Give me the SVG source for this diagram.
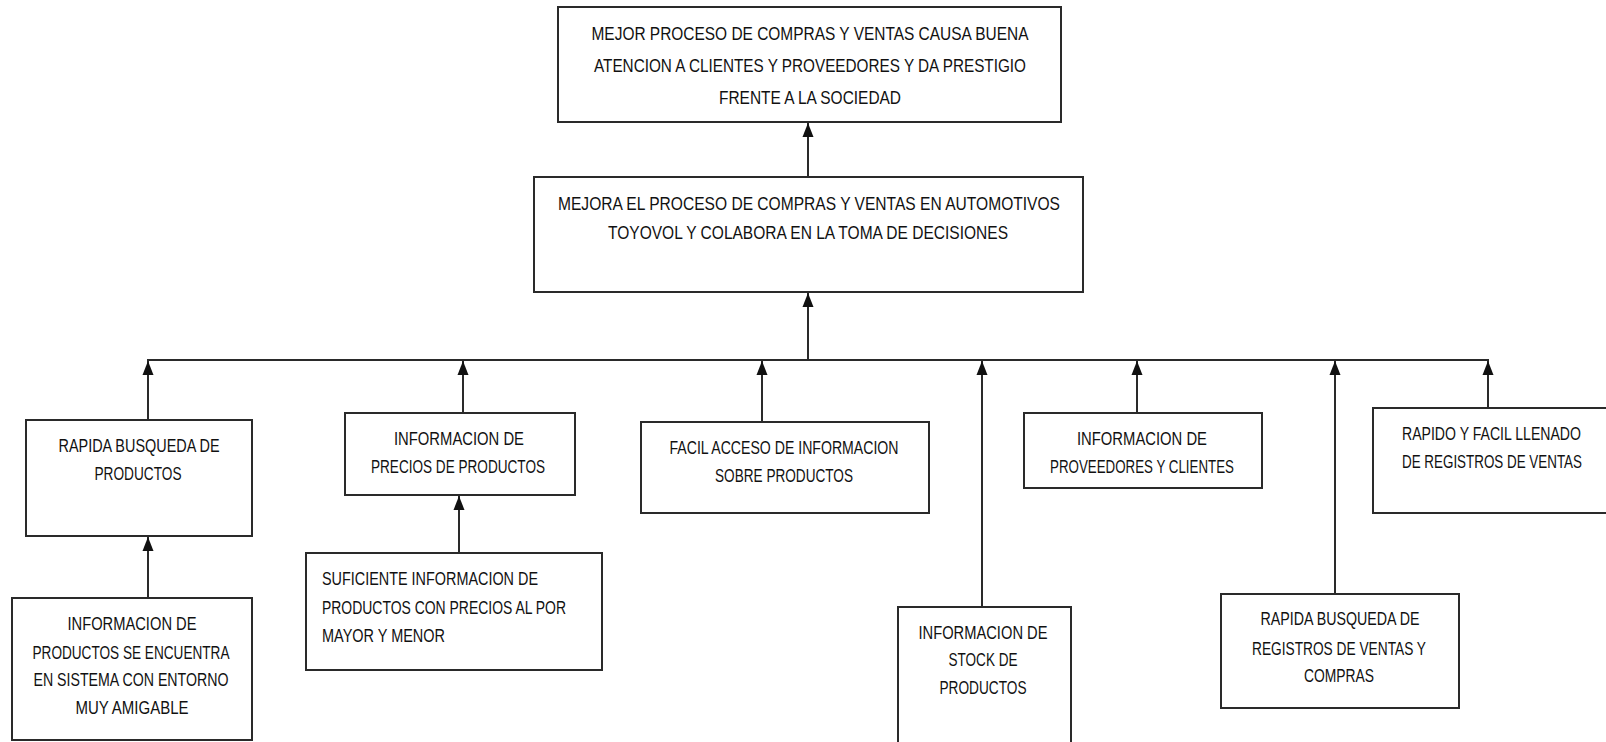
<svg xmlns="http://www.w3.org/2000/svg" width="1606" height="742" viewBox="0 0 1606 742">
<style>
.box{fill:#fff;stroke:#2a2a2a;stroke-width:2}
.t{font-family:"Liberation Sans",Arial,sans-serif;font-size:18px;fill:#111;text-anchor:middle}
.tl{font-family:"Liberation Sans",Arial,sans-serif;font-size:18px;fill:#111;text-anchor:start}
.c{stroke:#2a2a2a;stroke-width:2;fill:none}
.ca{stroke:#2a2a2a;stroke-width:2;fill:none;marker-end:url(#ah)}
</style>
<defs>
<marker id="ah" viewBox="-15 -6 16 12" refX="0" refY="0" markerUnits="userSpaceOnUse" markerWidth="16" markerHeight="12" orient="auto">
<path d="M0,0 L-14,-5.5 L-14,5.5 Z" fill="#111"/>
</marker>
</defs>
<rect width="1606" height="742" fill="#fff"/>
<g id="connectors">
<line class="ca" x1="808" y1="177" x2="808" y2="123"/>
<line class="ca" x1="808" y1="360" x2="808" y2="293"/>
<line class="c" x1="147" y1="360" x2="1489" y2="360"/>
<line class="ca" x1="148" y1="420" x2="148" y2="361"/>
<line class="ca" x1="463" y1="413" x2="463" y2="361"/>
<line class="ca" x1="762" y1="422" x2="762" y2="361"/>
<line class="ca" x1="982" y1="607" x2="982" y2="361"/>
<line class="ca" x1="1137" y1="413" x2="1137" y2="361"/>
<line class="ca" x1="1335" y1="594" x2="1335" y2="361"/>
<line class="ca" x1="1488" y1="408" x2="1488" y2="361"/>
<line class="ca" x1="148" y1="598" x2="148" y2="537"/>
<line class="ca" x1="459" y1="553" x2="459" y2="496"/>
</g>
<g id="top">
<rect class="box" x="558" y="7" width="503" height="115"/>
<text class="t" x="810" y="39.5" textLength="437" lengthAdjust="spacingAndGlyphs">MEJOR PROCESO DE COMPRAS Y VENTAS CAUSA BUENA</text>
<text class="t" x="810" y="71.5" textLength="432" lengthAdjust="spacingAndGlyphs">ATENCION A CLIENTES Y PROVEEDORES Y DA PRESTIGIO</text>
<text class="t" x="810" y="103.5" textLength="182" lengthAdjust="spacingAndGlyphs">FRENTE A LA SOCIEDAD</text>
</g>
<g id="mid">
<rect class="box" x="534" y="177" width="549" height="115"/>
<text class="t" x="809" y="209.5" textLength="502" lengthAdjust="spacingAndGlyphs">MEJORA EL PROCESO DE COMPRAS Y VENTAS EN AUTOMOTIVOS</text>
<text class="t" x="808" y="238.5" textLength="400" lengthAdjust="spacingAndGlyphs">TOYOVOL Y COLABORA EN LA TOMA DE DECISIONES</text>
</g>
<g id="n1">
<rect class="box" x="26" y="420" width="226" height="116"/>
<text class="t" x="139" y="451.5" textLength="161" lengthAdjust="spacingAndGlyphs">RAPIDA BUSQUEDA DE</text>
<text class="t" x="138" y="479.5" textLength="87" lengthAdjust="spacingAndGlyphs">PRODUCTOS</text>
</g>
<g id="n2">
<rect class="box" x="345" y="413" width="230" height="82"/>
<text class="t" x="459" y="444.5" textLength="130" lengthAdjust="spacingAndGlyphs">INFORMACION  DE</text>
<text class="t" x="458" y="472.5" textLength="174" lengthAdjust="spacingAndGlyphs">PRECIOS DE PRODUCTOS</text>
</g>
<g id="n3">
<rect class="box" x="641" y="422" width="288" height="91"/>
<text class="t" x="784" y="453.5" textLength="229" lengthAdjust="spacingAndGlyphs">FACIL ACCESO  DE INFORMACION</text>
<text class="t" x="784" y="481.5" textLength="138" lengthAdjust="spacingAndGlyphs">SOBRE  PRODUCTOS</text>
</g>
<g id="n4">
<rect class="box" x="898" y="607" width="173" height="160"/>
<text class="t" x="983" y="638.5" textLength="129" lengthAdjust="spacingAndGlyphs">INFORMACION  DE</text>
<text class="t" x="983" y="665.5" textLength="69" lengthAdjust="spacingAndGlyphs">STOCK DE</text>
<text class="t" x="983" y="693.5" textLength="87" lengthAdjust="spacingAndGlyphs">PRODUCTOS</text>
</g>
<g id="n5">
<rect class="box" x="1024" y="413" width="238" height="75"/>
<text class="t" x="1142" y="444.5" textLength="130" lengthAdjust="spacingAndGlyphs">INFORMACION  DE</text>
<text class="t" x="1142" y="472.5" textLength="184" lengthAdjust="spacingAndGlyphs">PROVEEDORES  Y CLIENTES</text>
</g>
<g id="n6">
<rect class="box" x="1221" y="594" width="238" height="114"/>
<text class="t" x="1340" y="624.5" textLength="159" lengthAdjust="spacingAndGlyphs">RAPIDA BUSQUEDA  DE</text>
<text class="t" x="1339" y="654.5" textLength="174" lengthAdjust="spacingAndGlyphs">REGISTROS  DE VENTAS  Y</text>
<text class="t" x="1339" y="681.5" textLength="70" lengthAdjust="spacingAndGlyphs">COMPRAS</text>
</g>
<g id="n7">
<rect class="box" x="1373" y="408" width="250" height="105"/>
<text class="tl" x="1402" y="439.5" textLength="179" lengthAdjust="spacingAndGlyphs">RAPIDO Y FACIL LLENADO</text>
<text class="tl" x="1402" y="467.5" textLength="180" lengthAdjust="spacingAndGlyphs">DE REGISTROS  DE VENTAS</text>
</g>
<g id="n8">
<rect class="box" x="12" y="598" width="240" height="142"/>
<text class="t" x="132" y="629.5" textLength="129" lengthAdjust="spacingAndGlyphs">INFORMACION  DE</text>
<text class="t" x="131" y="658.5" textLength="197" lengthAdjust="spacingAndGlyphs">PRODUCTOS SE ENCUENTRA</text>
<text class="t" x="131" y="685.5" textLength="195" lengthAdjust="spacingAndGlyphs">EN SISTEMA  CON ENTORNO</text>
<text class="t" x="132" y="713.5" textLength="113" lengthAdjust="spacingAndGlyphs">MUY AMIGABLE</text>
</g>
<g id="n9">
<rect class="box" x="306" y="553" width="296" height="117"/>
<text class="tl" x="322" y="584.5" textLength="216" lengthAdjust="spacingAndGlyphs">SUFICIENTE INFORMACION  DE</text>
<text class="tl" x="322" y="613.5" textLength="244" lengthAdjust="spacingAndGlyphs">PRODUCTOS  CON PRECIOS AL POR</text>
<text class="tl" x="322" y="641.5" textLength="123" lengthAdjust="spacingAndGlyphs">MAYOR Y MENOR</text>
</g>
</svg>
